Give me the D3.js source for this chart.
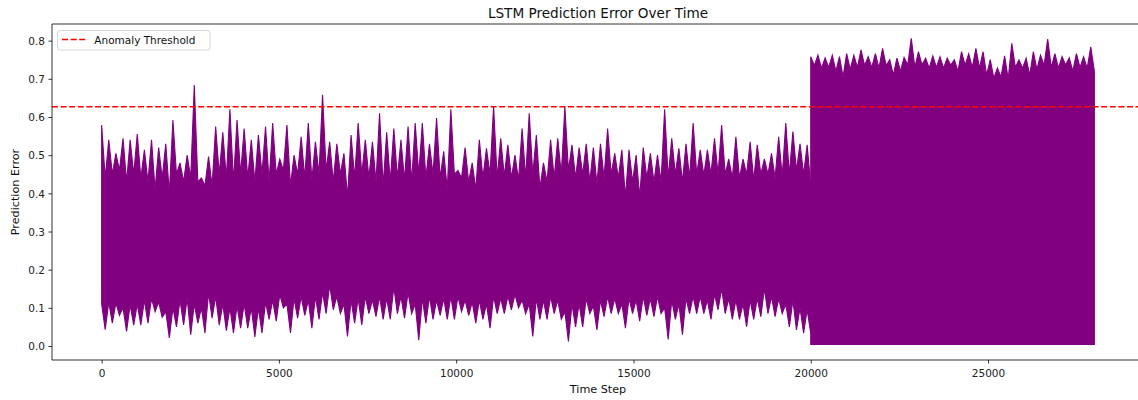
<!DOCTYPE html>
<html>
<head>
<meta charset="utf-8">
<script src="https://cdn.jsdelivr.net/npm/d3@7"></script>
<style>
  html, body { margin: 0; padding: 0; background: #ffffff; }
  svg { display: block; font-family: "DejaVu Sans", "Liberation Sans", sans-serif; }
</style>
</head>
<body>
<svg id="chart" width="1138" height="400"></svg>
<script>
// ---------------- data ----------------
const chartTitle = "LSTM Prediction Error Over Time";
const xLabel = "Time Step";
const yLabel = "Prediction Error";
const legendLabel = "Anomaly Threshold";

const xTicks = [0, 5000, 10000, 15000, 20000, 25000];
const yTicks = [0.0, 0.1, 0.2, 0.3, 0.4, 0.5, 0.6, 0.7, 0.8];

const anomalyThreshold = 0.627;

// time span of each regime of the series
const segmentStart = [0, 20000];
const segmentEnd = [19999, 27999];

// regime 1 (steps 0 - 19999): per ~200-step window
// highest spike in the window
const peakA = [
  0.579,0.540,0.505,0.544,0.540,0.555,0.514,0.540,0.520,0.530,
  0.592,0.480,0.500,0.684,0.440,0.496,0.575,0.560,0.620,0.592,
  0.570,0.540,0.553,0.575,0.584,0.490,0.579,0.500,0.548,0.584,
  0.535,0.658,0.535,0.530,0.505,0.553,0.584,0.540,0.535,0.610,
  0.560,0.570,0.540,0.575,0.584,0.584,0.530,0.597,0.510,0.620,
  0.460,0.520,0.480,0.540,0.518,0.628,0.544,0.527,0.500,0.570,
  0.610,0.553,0.480,0.540,0.544,0.627,0.527,0.520,0.530,0.520,
  0.530,0.570,0.505,0.514,0.514,0.500,0.520,0.505,0.500,0.620,
  0.544,0.518,0.530,0.584,0.514,0.514,0.544,0.579,0.490,0.548,
  0.490,0.535,0.527,0.490,0.505,0.548,0.584,0.562,0.530,0.527
];
// top of the solid band (between spikes)
const dipA = [
  0.440,0.450,0.460,0.430,0.450,0.440,0.430,0.410,0.440,0.400,
  0.450,0.430,0.440,0.430,0.420,0.420,0.450,0.440,0.430,0.450,
  0.440,0.430,0.450,0.430,0.450,0.460,0.420,0.450,0.440,0.435,
  0.450,0.460,0.430,0.450,0.390,0.440,0.450,0.440,0.430,0.420,
  0.430,0.440,0.435,0.430,0.450,0.440,0.450,0.440,0.410,0.450,
  0.440,0.430,0.410,0.440,0.450,0.440,0.445,0.440,0.435,0.440,
  0.450,0.413,0.430,0.440,0.450,0.460,0.440,0.450,0.430,0.425,
  0.440,0.450,0.440,0.390,0.430,0.390,0.440,0.430,0.430,0.440,
  0.450,0.430,0.440,0.450,0.447,0.450,0.450,0.450,0.440,0.440,
  0.450,0.435,0.450,0.450,0.440,0.445,0.450,0.460,0.450,0.420
];
// lowest spike in the window
const troughA = [
  0.043,0.060,0.080,0.038,0.055,0.055,0.060,0.090,0.075,0.021,
  0.050,0.055,0.030,0.060,0.034,0.073,0.055,0.040,0.034,0.047,
  0.047,0.024,0.034,0.070,0.065,0.100,0.034,0.073,0.080,0.047,
  0.070,0.085,0.095,0.085,0.025,0.060,0.055,0.085,0.077,0.070,
  0.070,0.085,0.073,0.085,0.015,0.060,0.070,0.080,0.070,0.070,
  0.090,0.080,0.060,0.070,0.047,0.085,0.085,0.095,0.100,0.085,
  0.025,0.070,0.070,0.085,0.070,0.012,0.050,0.050,0.085,0.042,
  0.077,0.085,0.085,0.047,0.085,0.065,0.080,0.077,0.085,0.017,
  0.070,0.030,0.085,0.085,0.085,0.070,0.095,0.085,0.070,0.070,
  0.051,0.070,0.077,0.085,0.077,0.085,0.050,0.042,0.034,0.034
];
// bottom of the solid band (between downward spikes)
const crestA = [
  0.110,0.115,0.113,0.100,0.108,0.110,0.120,0.125,0.115,0.090,
  0.100,0.120,0.125,0.110,0.100,0.139,0.130,0.110,0.100,0.105,
  0.110,0.100,0.100,0.115,0.120,0.135,0.110,0.125,0.130,0.120,
  0.130,0.140,0.160,0.130,0.110,0.120,0.125,0.130,0.120,0.130,
  0.125,0.155,0.130,0.140,0.110,0.125,0.130,0.120,0.125,0.130,
  0.130,0.120,0.115,0.120,0.110,0.130,0.125,0.130,0.135,0.120,
  0.110,0.125,0.120,0.130,0.120,0.090,0.110,0.110,0.125,0.105,
  0.120,0.130,0.125,0.110,0.125,0.120,0.130,0.125,0.130,0.100,
  0.120,0.110,0.125,0.130,0.130,0.120,0.135,0.150,0.125,0.120,
  0.110,0.120,0.125,0.150,0.130,0.125,0.110,0.120,0.100,0.095
];

// regime 2 (steps 20000 - 27999)
const peakB = [
  0.758,0.762,0.755,0.762,0.758,0.766,0.762,0.776,0.758,0.766,
  0.780,0.750,0.754,0.756,0.806,0.771,0.754,0.760,0.758,0.754,
  0.750,0.771,0.766,0.780,0.771,0.750,0.728,0.760,0.793,0.750,
  0.754,0.771,0.762,0.804,0.766,0.758,0.755,0.766,0.758,0.784
];
const dipB = [
  0.735,0.728,0.730,0.720,0.705,0.725,0.730,0.735,0.730,0.728,
  0.735,0.710,0.720,0.736,0.730,0.736,0.728,0.730,0.728,0.736,
  0.720,0.736,0.730,0.728,0.710,0.702,0.705,0.700,0.730,0.728,
  0.710,0.725,0.736,0.730,0.728,0.736,0.720,0.730,0.728,0.720
];
const floorB = [
  0.004,0.004,0.004,0.004,0.004,0.004,0.004,0.004,0.004,0.004,
  0.004,0.004,0.004,0.004,0.004,0.004,0.004,0.004,0.004,0.004,
  0.004,0.004,0.004,0.004,0.004,0.004,0.004,0.004,0.004,0.004,
  0.004,0.004,0.004,0.004,0.004,0.004,0.004,0.004,0.004,0.004
];

// ---------------- layout ----------------
const plot = { left: 52, right: 1144, top: 24, bottom: 360 };
const purple = "#800080";
const red = "#ff0000";

const svg = d3.select("#chart");

const x = d3.scaleLinear().domain([-1400, 29399]).range([plot.left, plot.right]);
const y = d3.scaleLinear().domain([-0.0366, 0.8436]).range([plot.bottom, plot.top]);

svg.append("defs").append("clipPath").attr("id", "plotclip")
  .append("rect")
  .attr("x", plot.left).attr("y", plot.top)
  .attr("width", plot.right - plot.left).attr("height", plot.bottom - plot.top);

// envelope of the dense series: the top edge swings between each window's
// peak and dip, the bottom edge between its crest and trough
function envelopePoints(start, end, peak, dip, trough, crest) {
  const n = peak.length;
  const pos = d3.scaleLinear().domain([0, 2 * n - 1]).range([start, end]);
  const pts = [];
  for (let k = 0; k < n; k++) {
    pts.push({ step: pos(2 * k), top: peak[k], bottom: crest[k] });
    pts.push({ step: pos(2 * k + 1), top: dip[k], bottom: trough[k] });
  }
  return pts;
}

const segments = [
  envelopePoints(segmentStart[0], segmentEnd[0], peakA, dipA, troughA, crestA),
  envelopePoints(segmentStart[1], segmentEnd[1], peakB, dipB, floorB, floorB)
];

const area = d3.area()
  .x(d => x(d.step))
  .y0(d => y(d.bottom))
  .y1(d => y(d.top));

const dataG = svg.append("g").attr("clip-path", "url(#plotclip)");
dataG.selectAll("path.series")
  .data(segments)
  .join("path")
  .attr("class", "series")
  .attr("d", area)
  .attr("fill", purple)
  .attr("stroke", purple)
  .attr("stroke-width", 1.1)
  .attr("stroke-linejoin", "miter");

// threshold line
dataG.append("line")
  .attr("x1", plot.left).attr("x2", plot.right)
  .attr("y1", y(anomalyThreshold)).attr("y2", y(anomalyThreshold))
  .attr("stroke", red)
  .attr("stroke-width", 1.6)
  .attr("stroke-dasharray", "6,2.6");

// axes
const xAxis = d3.axisBottom(x).tickValues(xTicks).tickFormat(d3.format("d"))
  .tickSize(3.5).tickPadding(3.5);
const yAxis = d3.axisLeft(y).tickValues(yTicks).tickFormat(d3.format(".1f"))
  .tickSize(3.5).tickPadding(3.5);

const gx = svg.append("g").attr("transform", `translate(0,${plot.bottom})`).call(xAxis);
const gy = svg.append("g").attr("transform", `translate(${plot.left},0)`).call(yAxis);
[gx, gy].forEach(g => {
  g.select(".domain").remove();
  g.selectAll(".tick line").attr("stroke", "#000").attr("stroke-width", 0.8);
  g.selectAll(".tick text").attr("fill", "#222").attr("font-size", "10.5px")
    .attr("font-family", "'DejaVu Sans', sans-serif");
});
gx.selectAll(".tick text").attr("dy", "0.98em");
gy.selectAll(".tick text").attr("dy", "0.36em");

// spines (left, top, bottom)
svg.append("path")
  .attr("d", `M${plot.right},${plot.bottom}H${plot.left}V${plot.top}H${plot.right}`)
  .attr("fill", "none").attr("stroke", "#000").attr("stroke-width", 0.8);

// title & labels
svg.append("text")
  .attr("x", (plot.left + plot.right) / 2).attr("y", 18.3)
  .attr("text-anchor", "middle").attr("font-size", "13.6px").attr("fill", "#111")
  .text(chartTitle);
svg.append("text")
  .attr("x", (plot.left + plot.right) / 2).attr("y", 392.5)
  .attr("text-anchor", "middle").attr("font-size", "11.2px").attr("fill", "#111")
  .text(xLabel);
svg.append("text")
  .attr("transform", `translate(19,${(plot.top + plot.bottom) / 2}) rotate(-90)`)
  .attr("text-anchor", "middle").attr("font-size", "11.2px").attr("fill", "#111")
  .text(yLabel);

// legend
const lg = svg.append("g");
lg.append("rect")
  .attr("x", 57.5).attr("y", 30.5).attr("width", 152.5).attr("height", 19.5)
  .attr("rx", 2.5).attr("fill", "#fff").attr("fill-opacity", 0.8)
  .attr("stroke", "#cccccc").attr("stroke-width", 0.8);
lg.append("line")
  .attr("x1", 62).attr("x2", 86).attr("y1", 39.5).attr("y2", 39.5)
  .attr("stroke", red).attr("stroke-width", 1.6).attr("stroke-dasharray", "6,2.6");
lg.append("text")
  .attr("x", 94.3).attr("y", 43.6).attr("font-size", "10.5px").attr("fill", "#111")
  .text(legendLabel);
</script>
</body>
</html>
